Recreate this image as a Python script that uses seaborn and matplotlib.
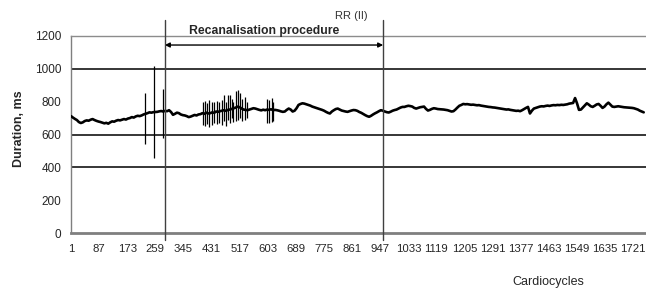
import numpy as np
import pandas as pd
import seaborn as sns
from matplotlib import pyplot as plt

# RR (II) duration, ms -- one value read every 6 cardiocycles (baseline)
rr_ms = [
    712, 703, 695, 688, 676, 670, 674, 682, 686, 684,
    690, 694, 688, 683, 679, 676, 672, 668, 671, 666,
    674, 680, 678, 684, 688, 686, 690, 694, 691, 697,
    700, 706, 703, 710, 714, 712, 716, 722, 726, 730,
    735, 733, 736, 737, 738, 741, 743, 740, 744, 742,
    748, 737, 720, 726, 733, 730, 722, 718, 716, 712,
    706, 709, 714, 719, 716, 722, 724, 730, 726, 733,
    728, 730, 735, 732, 740, 738, 742, 745, 748, 744,
    750, 752, 756, 760, 764, 770, 766, 758, 752, 750,
    748, 752, 756, 760, 758, 754, 750, 747, 751, 748,
    752, 750, 754, 748, 750, 748, 745, 741, 738, 740,
    750, 758, 752, 740, 745, 760, 780, 786, 790, 788,
    784, 780, 776, 770, 766, 762, 758, 754, 750, 745,
    738, 732, 728, 740, 748, 755, 758, 752, 746, 743,
    740, 738, 742, 746, 749, 748, 744, 737, 732, 725,
    718, 712, 708, 714, 722, 729, 735, 742, 748, 745,
    740, 736, 734, 739, 745, 749, 752, 758, 764, 768,
    768, 772, 775, 773, 770, 762, 758, 762, 766, 768,
    770, 756, 746, 750, 756, 760, 758, 755, 754, 753,
    752, 750, 748, 744, 740, 742, 752, 764, 775, 780,
    786, 784, 785, 783, 781, 782, 780, 778, 779, 776,
    774, 772, 770, 768, 767, 765, 764, 762, 760, 758,
    756, 754, 752, 753, 750, 748, 746, 744, 745, 742,
    748, 755, 762, 768, 728, 745, 758, 762, 766, 770,
    772, 771, 774, 776, 774, 777, 779, 778, 780, 779,
    781, 780, 782, 784, 788, 790, 792, 822, 790, 750,
    752, 765, 778, 790, 782, 772, 768, 775, 783, 786,
    775, 762, 770, 784, 794, 782, 770, 768, 770, 772,
    770, 768, 766, 765, 764, 763, 762, 760, 756, 752,
    745, 740, 735,
]
cycle = 1 + 6 * np.arange(len(rr_ms))

# single-beat artefacts (ectopic beats): cycle, max and min RR
spike_cycle = [227, 254, 281,
               404, 410, 416, 423, 431, 439,
               449, 455, 462, 468, 474, 480, 486, 492, 498,
               507, 513, 519, 525, 532, 538,
               602, 608, 615, 620]
spike_high = [850, 1018, 875,
              800, 805, 790, 810, 800, 795,
              805, 795, 810, 840, 800, 838, 842, 815, 800,
              868, 872, 855, 815, 830, 800,
              815, 812, 820, 800]
spike_low = [545, 455, 578,
             658, 650, 665, 645, 660, 668,
             665, 672, 660, 680, 650, 690, 668, 700, 675,
             682, 690, 700, 680, 690, 700,
             668, 672, 675, 680]

x_ticks = list(range(1, 1722, 86))
y_ticks = [0, 200, 400, 600, 800, 1000, 1200]
grid_at = [400, 600, 1000]
procedure = (288, 956)

df = pd.DataFrame({'Cardiocycles': cycle, 'RR': rr_ms})

sns.set_style('white')
plt.rcParams['font.family'] = ['Liberation Sans', 'DejaVu Sans']

fig = plt.figure(figsize=(6.46, 2.9), dpi=100)
ax = fig.add_axes([71 / 646, 1 - 233 / 290, 575 / 646, 197 / 290])

for g in grid_at:
    ax.axhline(g, color='black', lw=1.1, zorder=1)

ax.vlines(spike_cycle, spike_low, spike_high, color='black', lw=0.9, zorder=2)
sns.lineplot(data=df, x='Cardiocycles', y='RR', ax=ax, color='black',
             lw=1.9, zorder=3)

ax.set_xlim(1, 1760)
ax.set_ylim(0, 1200)
ax.set_xticks(x_ticks)
ax.set_xticklabels([str(t) for t in x_ticks], fontsize=8.2)
ax.set_yticks(y_ticks)
ax.set_yticklabels([str(t) for t in y_ticks], fontsize=8.5)
ax.tick_params(axis='x', length=0, pad=8)
ax.tick_params(axis='y', length=0, pad=7)

ax.spines['right'].set_visible(False)
ax.spines['left'].set_color('#7f7f7f')
ax.spines['left'].set_linewidth(1)
ax.spines['top'].set_color('#8c8c8c')
ax.spines['top'].set_linewidth(1)
ax.spines['bottom'].set_color('#7f7f7f')
ax.spines['bottom'].set_linewidth(2)

ax.set_xlabel('')
ax.set_ylabel('')
fig.text(19 / 646, 1 - 129 / 290, 'Duration, ms', rotation=90, fontsize=9,
         fontweight='bold', ha='center', va='center')
fig.text(548 / 646, 1 - 282 / 290, 'Cardiocycles', fontsize=9,
         ha='center', va='center')

# procedure markers
for p in procedure:
    ax.axvline(p, ymin=-0.036, ymax=1.081, color='#404040', lw=1,
               clip_on=False, zorder=4)
ax.annotate('', xy=(procedure[0], 1145), xytext=(procedure[1], 1145),
            arrowprops=dict(arrowstyle='<|-|>', color='black', lw=1,
                            mutation_scale=7, shrinkA=0, shrinkB=0),
            annotation_clip=False)
ax.text(593, 1195, 'Recanalisation procedure',
        fontsize=8.8, fontweight='bold', ha='center', va='bottom')
ax.text(858, 1290, 'RR (II)', fontsize=8, color='#333333',
        ha='center', va='bottom')

fig.savefig('out.png', dpi=100)
